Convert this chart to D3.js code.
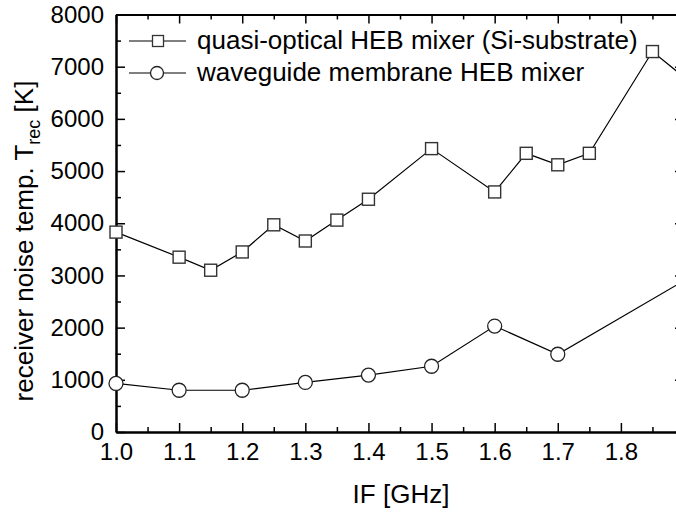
<!DOCTYPE html>
<html>
<head>
<meta charset="utf-8">
<script src="https://cdn.jsdelivr.net/npm/d3@7"></script>
<style>
  body { margin: 0; background: #fff; }
  svg { display: block; }
  text { font-family: "Liberation Sans", Arial, Helvetica, sans-serif; fill: #000; }
</style>
</head>
<body>
<svg id="chart" width="676" height="513"></svg>
<script>
// Receiver noise temperature vs. intermediate frequency
const quasiIF = [1.0, 1.1, 1.15, 1.2, 1.25, 1.3, 1.35, 1.4, 1.5, 1.6, 1.65, 1.7, 1.75, 1.85, 1.9];
const quasiT  = [3830, 3350, 3100, 3450, 3970, 3660, 4060, 4460, 5430, 4600, 5340, 5120, 5340, 7290, 6800];
const wgIF = [1.0, 1.1, 1.2, 1.3, 1.4, 1.5, 1.6, 1.7, 1.9];
const wgT  = [930, 800, 800, 950, 1090, 1260, 2030, 1490, 2900];
const seriesNames = ["quasi-optical HEB mixer (Si-substrate)", "waveguide membrane HEB mixer"];
const xTicks = [1.0, 1.1, 1.2, 1.3, 1.4, 1.5, 1.6, 1.7, 1.8, 1.9];
const xMinor = [1.05, 1.15, 1.25, 1.35, 1.45, 1.55, 1.65, 1.75, 1.85];
const yTicks = [0, 1000, 2000, 3000, 4000, 5000, 6000, 7000, 8000];
const yMinor = [500, 1500, 2500, 3500, 4500, 5500, 6500, 7500];

const svg = d3.select("#chart");
const mLeft = 116, mRight = 684, mTop = 14.5, mBottom = 432;

const x = d3.scaleLinear().domain([1.0, 1.9]).range([mLeft, mRight]);
const y = d3.scaleLinear().domain([0, 8000]).range([mBottom, mTop]);

const majorLen = 9, minorLen = 5;

function styleAxis(g) {
  g.select(".domain").attr("stroke", "#000").attr("stroke-width", 2);
  g.selectAll(".tick line").attr("stroke", "#000").attr("stroke-width", 1.5);
  g.selectAll(".tick text").attr("font-size", 24).attr("fill", "#000")
    .attr("font-family", "Liberation Sans, Arial, sans-serif");
}

// bottom axis with labels, ticks pointing inward
svg.append("g").attr("transform", `translate(0,${mBottom})`)
  .call(d3.axisBottom(x).tickValues(xTicks.filter(d => d <= 1.8)).tickFormat(d3.format(".1f"))
    .tickSizeInner(-majorLen).tickSizeOuter(0).tickPadding(11))
  .call(styleAxis);
svg.append("g").attr("transform", `translate(0,${mBottom})`)
  .call(d3.axisBottom(x).tickValues(xMinor).tickFormat("").tickSizeInner(-minorLen).tickSizeOuter(0))
  .call(styleAxis);

// top axis
svg.append("g").attr("transform", `translate(0,${mTop})`)
  .call(d3.axisTop(x).tickValues(xTicks).tickFormat("").tickSizeInner(-majorLen).tickSizeOuter(0))
  .call(styleAxis);
svg.append("g").attr("transform", `translate(0,${mTop})`)
  .call(d3.axisTop(x).tickValues(xMinor).tickFormat("").tickSizeInner(-minorLen).tickSizeOuter(0))
  .call(styleAxis);

// left axis with labels
svg.append("g").attr("transform", `translate(${mLeft},0)`)
  .call(d3.axisLeft(y).tickValues(yTicks).tickFormat(d3.format("d"))
    .tickSizeInner(-majorLen).tickSizeOuter(0).tickPadding(12))
  .call(styleAxis);
svg.append("g").attr("transform", `translate(${mLeft},0)`)
  .call(d3.axisLeft(y).tickValues(yMinor).tickFormat("").tickSizeInner(-minorLen).tickSizeOuter(0))
  .call(styleAxis);

// right axis
svg.append("g").attr("transform", `translate(${mRight},0)`)
  .call(d3.axisRight(y).tickValues(yTicks).tickFormat("").tickSizeInner(-majorLen).tickSizeOuter(0))
  .call(styleAxis);
svg.append("g").attr("transform", `translate(${mRight},0)`)
  .call(d3.axisRight(y).tickValues(yMinor).tickFormat("").tickSizeInner(-minorLen).tickSizeOuter(0))
  .call(styleAxis);

// data series
const quasi = quasiIF.map((f, i) => ({ f, t: quasiT[i] }));
const wg = wgIF.map((f, i) => ({ f, t: wgT[i] }));
const line = d3.line().x(d => x(d.f)).y(d => y(d.t));

const plot = svg.append("g");
plot.append("path").datum(quasi).attr("d", line)
  .attr("fill", "none").attr("stroke", "#000").attr("stroke-width", 1.2);
plot.append("path").datum(wg).attr("d", line)
  .attr("fill", "none").attr("stroke", "#000").attr("stroke-width", 1.2);

const sq = 12, cr = 7;
plot.selectAll("rect.q").data(quasi).join("rect").attr("class", "q")
  .attr("x", d => x(d.f) - sq / 2).attr("y", d => y(d.t) - sq / 2)
  .attr("width", sq).attr("height", sq)
  .attr("fill", "#fff").attr("stroke", "#333").attr("stroke-width", 1.4);
plot.selectAll("circle.w").data(wg).join("circle").attr("class", "w")
  .attr("cx", d => x(d.f)).attr("cy", d => y(d.t)).attr("r", cr)
  .attr("fill", "#fff").attr("stroke", "#222").attr("stroke-width", 1.3);

// legend
const legend = svg.append("g");
const rows = [41, 73];
seriesNames.forEach((name, i) => {
  const ly = rows[i];
  legend.append("line").attr("x1", 129).attr("x2", 186).attr("y1", ly).attr("y2", ly)
    .attr("stroke", "#000").attr("stroke-width", 1.2);
  if (i === 0) {
    legend.append("rect").attr("x", 158 - 5.5).attr("y", ly - 5.5).attr("width", 11).attr("height", 11)
      .attr("fill", "#fff").attr("stroke", "#333").attr("stroke-width", 1.3);
  } else {
    legend.append("circle").attr("cx", 157).attr("cy", ly).attr("r", 6.5)
      .attr("fill", "#fff").attr("stroke", "#222").attr("stroke-width", 1.3);
  }
  legend.append("text").attr("x", 197).attr("y", ly + 7.5).attr("font-size", 26).text(name);
});

// axis titles
svg.append("text").attr("x", 401).attr("y", 503).attr("text-anchor", "middle")
  .attr("font-size", 26).text("IF [GHz]");

const yl = svg.append("text").attr("transform", "translate(33,241) rotate(-90)")
  .attr("text-anchor", "middle").attr("font-size", 26);
yl.append("tspan").text("receiver noise temp. T");
yl.append("tspan").attr("font-size", 18).attr("dy", 7).text("rec");
yl.append("tspan").attr("dy", -7).text(" [K]");
</script>
</body>
</html>
